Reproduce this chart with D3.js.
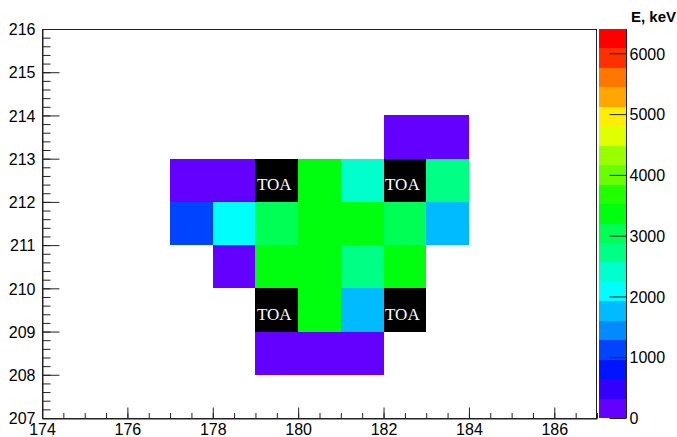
<!DOCTYPE html>
<html><head><meta charset="utf-8">
<script src="https://cdn.jsdelivr.net/npm/d3@7"></script>
<style>body{margin:0;background:#fff;overflow:hidden} svg{display:block}</style>
</head><body>
<script>
// ---- data ----
const cellX = [182,183, 177,178,180,181,183, 177,178,179,180,181,182,183, 178,179,180,181,182, 180,181, 179,180,181];
const cellY = [213,213, 212,212,212,212,212, 211,211,211,211,211,211,211, 210,210,210,210,210, 209,209, 208,208,208];
const cellE = [150,200, 250,200,3300,2400,2700, 1100,2050,3000,3400,3350,2950,1750, 180,3350,3400,2750,3300, 3300,1780, 220,160,240];
const toaX = [179,182,179,182];
const toaY = [212,212,209,209];
const toaLabel = "TOA";
const xTicks = [174,176,178,180,182,184,186];
const yTicks = [207,208,209,210,211,212,213,214,215,216];
const zTicks = [0,1000,2000,3000,4000,5000,6000];
const zTitle = "E, keV";
const zMin = 0, zMax = 6400, nContours = 20;

// ---- layout ----
const W = 677, H = 437;
const L = 42, R = 597, T = 29, B = 418;
const svg = d3.select("body").append("svg").attr("width", W).attr("height", H);
const x = d3.scaleLinear([174, 187], [L, R]);
const y = d3.scaleLinear([207, 216], [B, T]);
const z = d3.scaleLinear([zMin, zMax], [B, T]);

// ROOT "pretty" palette with 20 contours
function bandColor(k) {
  const idx = Math.floor((k + 0.99) * 50 / nContours);
  const hue = 280 - (idx + 1) * (280 / 50);
  return d3.hsl(hue, 1, 0.5).formatHex();
}
function valueColor(v) {
  let k = Math.floor((v - zMin) / (zMax - zMin) * nContours);
  k = Math.max(0, Math.min(nContours - 1, k));
  return bandColor(k);
}

// cells
const cells = cellX.map((cx, i) => ({x: cx, y: cellY[i], e: cellE[i]}));
svg.append("g").selectAll("rect").data(cells).join("rect")
  .attr("x", d => x(d.x)).attr("y", d => y(d.y + 1))
  .attr("width", d => x(d.x + 1) - x(d.x)).attr("height", d => y(d.y) - y(d.y + 1))
  .attr("fill", d => valueColor(d.e)).attr("shape-rendering", "crispEdges");

const toas = toaX.map((tx, i) => ({x: tx, y: toaY[i]}));
const tg = svg.append("g");
tg.selectAll("rect").data(toas).join("rect")
  .attr("x", d => x(d.x)).attr("y", d => y(d.y + 1))
  .attr("width", d => x(d.x + 1) - x(d.x)).attr("height", d => y(d.y) - y(d.y + 1))
  .attr("fill", "#000").attr("shape-rendering", "crispEdges");
tg.selectAll("text").data(toas).join("text")
  .attr("x", d => x(d.x) + 1.5).attr("y", d => y(d.y + 1) + 0.73 * (y(d.y) - y(d.y + 1)))
  .attr("fill", "#fff").attr("font-family", "'Liberation Serif', 'DejaVu Serif', serif")
  .attr("font-size", 17).text(toaLabel);

// frame
svg.append("rect").attr("x", L + 0.5).attr("y", T + 0.5).attr("width", R - L - 1).attr("height", B - T)
  .attr("fill", "none").attr("stroke", "#222").attr("stroke-width", 1);

const font = "'Liberation Sans', Arial, sans-serif";
function styleAxis(g) {
  g.selectAll("path.domain").attr("stroke", "#222");
  g.selectAll(".tick line").attr("stroke", "#222");
  g.selectAll("text").attr("font-family", font).attr("font-size", 16).attr("fill", "#000");
}

// y axis
const yMinor = d3.range(207, 216.001, 0.2).map(v => +v.toFixed(2));
svg.append("g").attr("transform", `translate(${L + 0.5},0)`)
  .call(d3.axisLeft(y).tickValues(yMinor).tickSizeInner(-8).tickSizeOuter(0).tickFormat(""))
  .call(g => g.select(".domain").remove())
  .call(g => g.selectAll(".tick line").attr("stroke", "#222"));
svg.append("g").attr("transform", `translate(${L + 0.5},0)`)
  .call(d3.axisLeft(y).tickValues(yTicks).tickSizeInner(-17).tickSizeOuter(0).tickPadding(7).tickFormat(d3.format("d")))
  .call(styleAxis)
  .call(g => g.selectAll("text").attr("dy", "0.36em"));

// x axis
const xMinor = d3.range(174, 187.001, 0.5);
svg.append("g").attr("transform", `translate(0,${B + 0.5})`)
  .call(d3.axisBottom(x).tickValues(xMinor).tickSizeInner(-5.5).tickSizeOuter(0).tickFormat(""))
  .call(g => g.select(".domain").remove())
  .call(g => g.selectAll(".tick line").attr("stroke", "#222"));
svg.append("g").attr("transform", `translate(0,${B + 0.5})`)
  .call(d3.axisBottom(x).tickValues(xTicks).tickSizeInner(-11).tickSizeOuter(0).tickPadding(5).tickFormat(d3.format("d")))
  .call(styleAxis)
  .call(g => g.selectAll("text").attr("dy", "0.71em"));

// color bar
const CL = 599, CR = 626;
const levels = d3.range(nContours).map(k => k);
svg.append("g").selectAll("rect").data(levels).join("rect")
  .attr("x", CL).attr("width", CR - CL)
  .attr("y", k => z(zMin + (k + 1) * (zMax - zMin) / nContours))
  .attr("height", k => z(zMin + k * (zMax - zMin) / nContours) - z(zMin + (k + 1) * (zMax - zMin) / nContours))
  .attr("fill", k => bandColor(k)).attr("shape-rendering", "crispEdges");
svg.append("g").attr("transform", `translate(${CR + 0.5},0)`)
  .call(d3.axisRight(z).tickValues(zTicks).tickSizeInner(-17).tickSizeOuter(0).tickPadding(3).tickFormat(d3.format("d")))
  .call(styleAxis)
  .call(g => g.selectAll("text").attr("dy", "0.36em"))
  .call(g => g.select(".domain").attr("d", `M0,${T}V${B}`));

svg.append("text").attr("x", 631).attr("y", 22)
  .attr("font-family", font).attr("font-weight", "bold").attr("font-size", 15)
  .attr("fill", "#000").text(zTitle);
</script>
</body></html>
